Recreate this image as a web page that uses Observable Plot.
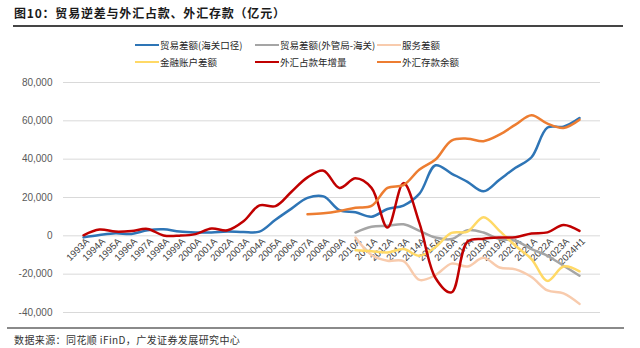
<!DOCTYPE html>
<html>
<head>
<meta charset="utf-8">
<script src="https://cdn.jsdelivr.net/npm/d3@7"></script>
<script src="https://cdn.jsdelivr.net/npm/@observablehq/plot@0.6"></script>
<style>
  html, body { margin: 0; padding: 0; background: #fff; }
  body { width: 640px; height: 348px; position: relative; overflow: hidden;
         font-family: "Noto Sans CJK SC", "Liberation Sans", sans-serif; }
  .abs { position: absolute; }
  #title { left: 14px; top: 4px; font-size: 12px; font-weight: bold; color: #1a1a1a; line-height: 18px; white-space: nowrap; letter-spacing: 0.8px; }
  #titleRule { left: 13px; top: 25px; width: 610px; height: 2px; background: #454545; }
  #bottomRule { left: 7px; top: 327px; width: 617px; height: 2px; background: #8a8a8a; }
  #source { left: 14px; top: 332px; font-size: 10px; color: #333; line-height: 16px; white-space: nowrap; letter-spacing: 0.4px; }
  .leg { position: absolute; display: flex; align-items: center; font-size: 9.5px; color: #262626; white-space: nowrap; line-height: 14px; }
  .sw { width: 24px; height: 2.5px; margin-right: 1px; }
  #chart { left: 0; top: 72px; }
</style>
</head>
<body>
<div id="title" class="abs">图10：贸易逆差与外汇占款、外汇存款（亿元）</div>
<div id="titleRule" class="abs"></div>
<div id="legend"></div>
<div id="chart" class="abs"></div>
<div id="bottomRule" class="abs"></div>
<div id="source" class="abs">数据来源：同花顺 iFinD，广发证券发展研究中心</div>
<script>
const categories = ["1993A","1994A","1995A","1996A","1997A","1998A","1999A","2000A","2001A","2002A","2003A","2004A","2005A","2006A","2007A","2008A","2009A","2010A","2011A","2012A","2013A","2014A","2015A","2016A","2017A","2018A","2019A","2020A","2021A","2022A","2023A","2024H1"];

// 贸易差额(海关口径)
const tradeCustoms = [-800,400,1300,1000,2900,3400,2200,1800,1800,2200,2000,2200,8400,14200,19800,20600,13400,12300,10000,14000,15800,22000,36800,32500,28200,23200,29300,35500,41000,56500,57000,61500];
// 贸易差额(外管局-海关)
const tradeSafeDiff = [null,null,null,null,null,null,null,null,null,null,null,null,null,null,null,null,null,1700,4700,5200,6000,2600,-900,-1700,2900,1700,-1700,-2600,-6900,-10400,-15600,-20800];
// 服务差额
const services = [null,null,null,null,null,null,null,null,null,null,null,null,null,null,null,null,null,-900,-10000,-13000,-13200,-23000,-20500,-14500,-16000,-11500,-16500,-17500,-21500,-28500,-30000,-35500];
// 金融账户差额
const financial = [null,null,null,null,null,null,null,null,null,null,null,null,null,null,null,null,null,-7500,-8000,-8700,-6900,-10400,-5800,1500,2200,9700,2600,-5200,-12100,-23500,-16000,-18500];
// 外汇占款年增量
const fxIncrement = [300,3300,2200,2500,3600,200,100,900,3800,2900,7600,15900,15500,23000,30500,34000,25000,30000,25000,4300,27500,6500,-22000,-29500,-3000,-1500,-900,-700,1200,1800,5700,2600];
// 外汇存款余额
const fxDeposit = [null,null,null,null,null,null,null,null,null,null,null,null,null,null,11300,11800,13000,14700,15600,25000,26500,34600,39800,49700,50700,49400,52800,58000,62900,58500,56300,60600];

const yTicks = [-40000,-20000,0,20000,40000,60000,80000];

const seriesNames = ["贸易差额(海关口径)","贸易差额(外管局-海关)","服务差额","金融账户差额","外汇占款年增量","外汇存款余额"];
const seriesValues = [tradeCustoms, tradeSafeDiff, services, financial, fxIncrement, fxDeposit];
const seriesColors = ["#2E75B6","#A5A5A5","#F8CBAD","#FFD966","#C00000","#ED7D31"];

// legend (HTML)
const legPos = [[135,38],[255,38],[377,38],[135,55],[255,55],[377,55]];
const legend = document.getElementById("legend");
seriesNames.forEach((name, i) => {
  const el = document.createElement("div");
  el.className = "leg";
  el.style.left = legPos[i][0] + "px";
  el.style.top = legPos[i][1] + "px";
  el.innerHTML = `<span class="sw" style="background:${seriesColors[i]}"></span><span>${name}</span>`;
  legend.appendChild(el);
});

const rows = [];
seriesValues.forEach((vals, s) => {
  vals.forEach((v, i) => {
    if (v !== null) rows.push({series: seriesNames[s], cat: categories[i], v});
  });
});

const fmt = d => (d < 0 ? "-" : "") + d3.format(",")(Math.abs(d));
const labelRows = categories.map(c => ({cat: c, v: 0}));

const marks = [
  Plot.ruleY(yTicks, {stroke: "#d9d9d9", strokeWidth: 1}),
  Plot.axisY({ticks: yTicks, tickSize: 0, tickPadding: 11, tickFormat: fmt, fontSize: 10, label: null}),
  Plot.text(labelRows, {x: "cat", y: "v", text: "cat", rotate: -45, textAnchor: "end", dx: 4, dy: 4, fontSize: 9.5, fill: "#404040"})
];
seriesNames.forEach((name, s) => {
  marks.push(Plot.line(rows.filter(r => r.series === name), {
    x: "cat", y: "v", stroke: seriesColors[s], strokeWidth: 2.5, curve: "catmull-rom"
  }));
});

const chart = Plot.plot({
  width: 640,
  height: 250,
  marginTop: 10,
  marginBottom: 10,
  marginLeft: 63,
  marginRight: 40,
  style: {fontFamily: "'Liberation Sans', Arial, sans-serif", color: "#595959", background: "transparent"},
  x: {type: "point", domain: categories, range: [70, 592], axis: null},
  y: {domain: [-40000, 80000], axis: null},
  marks
});
document.getElementById("chart").appendChild(chart);
</script>
</body>
</html>
